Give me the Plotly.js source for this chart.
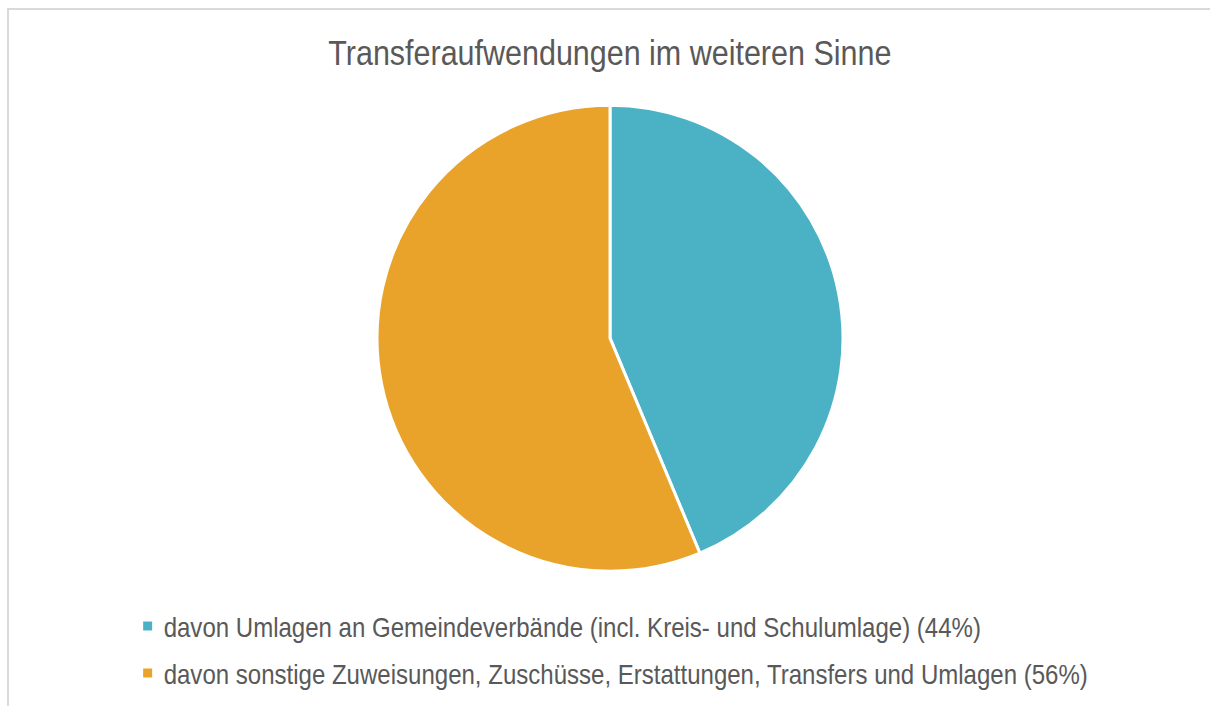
<!DOCTYPE html>
<html>
<head>
<meta charset="utf-8">
<script src="https://cdn.plot.ly/plotly-3.0.1.min.js"></script>
<style>
  html, body { margin:0; padding:0; background:#fff; overflow:hidden; }
  #frame { position:absolute; left:7px; top:8px; width:1400px; height:900px; border:2px solid #d9d9d9; box-sizing:border-box; }
  #chart { position:absolute; left:0; top:0; width:1210px; height:706px; }
  /* emulate a narrow (Arial Narrow-like) face with the installed Liberation Sans */
  #chart .gtitle { transform-box: fill-box; transform-origin: center; transform: scaleX(0.847); }
  #chart .legendtext { transform-box: fill-box; transform-origin: left center; transform: translateX(-4px) scale(0.707, 0.794); }
</style>
</head>
<body>
<div id="frame"></div>
<div id="chart"></div>
<script>
const categories = [
  "davon Umlagen an Gemeindeverbände (incl. Kreis- und Schulumlage) (44%)",
  "davon sonstige Zuweisungen, Zuschüsse, Erstattungen, Transfers und Umlagen (56%)"
];
const shares = [43.7, 56.3];
const sliceColors = ["#4BB2C6", "#E9A32B"];
const chartTitle = "Transferaufwendungen im weiteren Sinne";

const FONT = "'Liberation Sans', Arial, sans-serif";

const data = [{
  type: "pie",
  labels: categories,
  values: shares,
  sort: false,
  direction: "clockwise",
  rotation: 0,
  textinfo: "none",
  hoverinfo: "label+percent",
  marker: { colors: sliceColors, line: { color: "#ffffff", width: 3 } },
  domain: { x: [0.3116, 0.6967], y: [0.190, 0.852] }
}];

const layout = {
  width: 1210,
  height: 706,
  margin: { l: 0, r: 0, t: 0, b: 0 },
  paper_bgcolor: "rgba(0,0,0,0)",
  plot_bgcolor: "rgba(0,0,0,0)",
  font: { family: FONT, color: "#595959" },
  title: {
    text: chartTitle,
    font: { family: FONT, size: 36, color: "#595959" },
    x: 0.504, xanchor: "center",
    y: 0.926, yanchor: "middle",
    xref: "paper", yref: "container"
  },
  showlegend: true,
  legend: {
    orientation: "h",
    entrywidth: 960,
    entrywidthmode: "pixels",
    x: 0.1055, xanchor: "left",
    y: 0.154, yanchor: "top",
    font: { family: FONT, size: 34, color: "#595959" },
    bgcolor: "rgba(0,0,0,0)",
    itemclick: false
  }
};

Plotly.newPlot("chart", data, layout, { displayModeBar: false, staticPlot: true });
</script>
</body>
</html>
